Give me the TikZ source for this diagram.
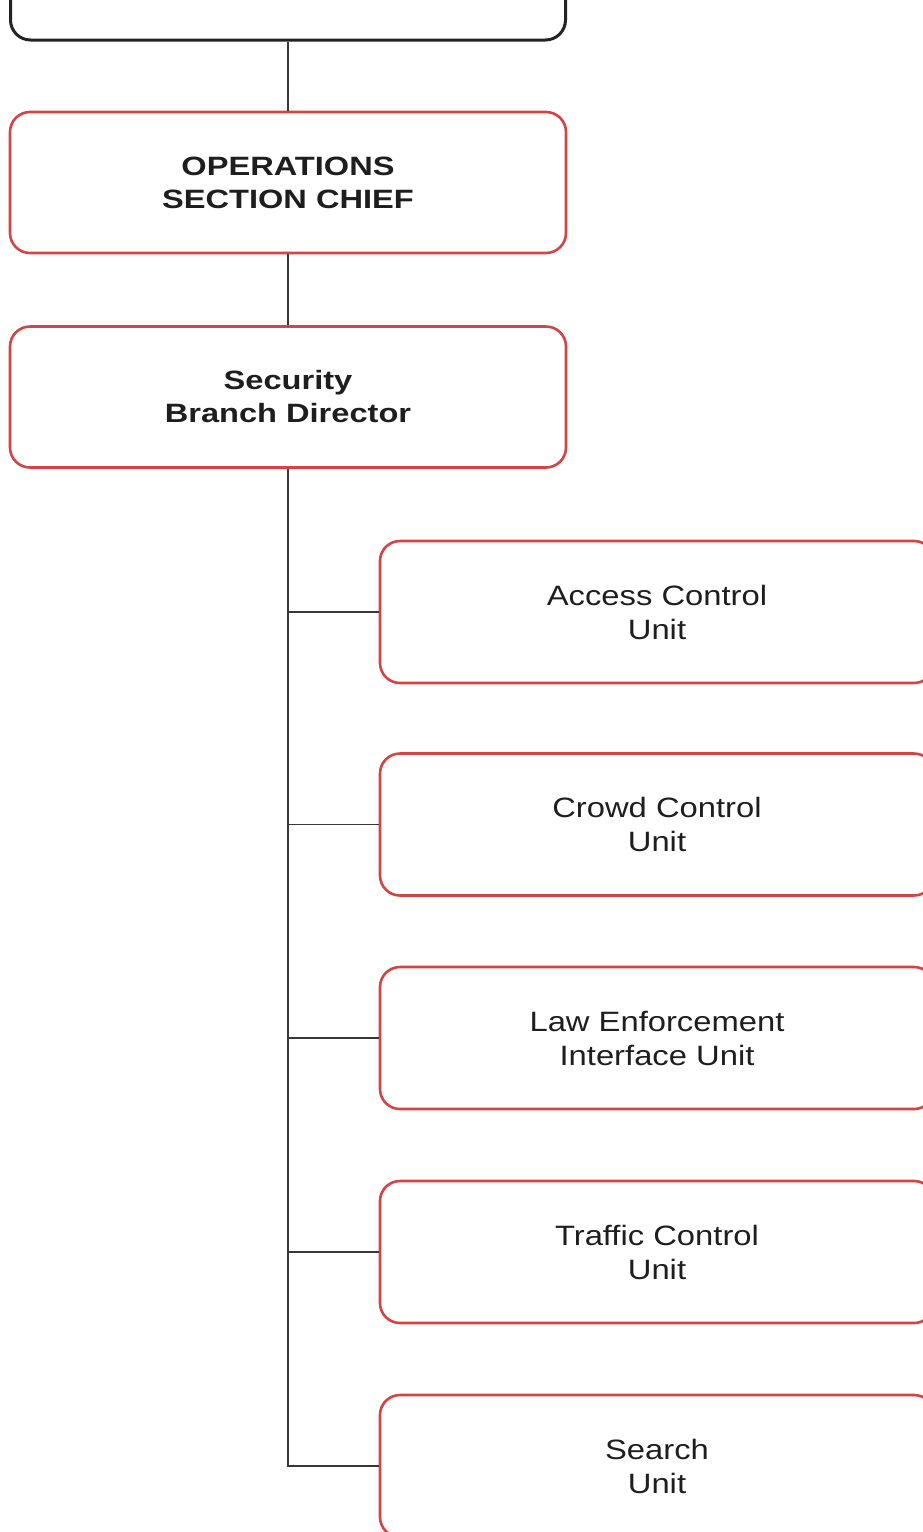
\documentclass[tikz,border=0pt]{standalone}
\usepackage{fontspec}
\setmainfont{Liberation Sans}
\newfontfamily\unitfont{Liberation Sans}[FakeStretch=1.17]
\newfontfamily\headfont{Liberation Sans}[FakeStretch=1.23]
\definecolor{boxred}{RGB}{212,68,68}
\definecolor{boxblack}{RGB}{35,35,35}
\definecolor{linegray}{RGB}{55,55,55}
\definecolor{txt}{RGB}{30,30,30}
\tikzset{
  orgbox/.style={draw=boxred, line width=2.6pt, rounded corners=20pt, rectangle,
    minimum width=556pt, minimum height=141pt, align=center, text=txt, inner sep=0pt,
    font=\unitfont\fontsize{28}{34}\selectfont},
  topbox/.style={draw=boxblack, line width=3pt, rounded corners=20pt, rectangle,
    minimum width=555pt, minimum height=160pt, inner sep=0pt},
  boldbox/.style={orgbox, font=\headfont\fontsize{26.5}{33}\selectfont\bfseries},
  unitbox/.style={orgbox, minimum width=554pt, minimum height=142pt},
  conn/.style={draw=linegray, line width=1.8pt}
}
\begin{document}
\begin{tikzpicture}[x=1pt,y=-1pt]
\useasboundingbox (0,0) rectangle (923,1532);
\clip (0,0) rectangle (923,1532);
\node[topbox] (top) at (288,-40) {};
\node[boldbox] (ops) at (288,182.5) {OPERATIONS\\SECTION CHIEF};
\node[boldbox] (sec) at (288,397) {Security\\Branch Director};
\node[unitbox] (u1) at (657,612) {Access Control\\Unit};
\node[unitbox] (u2) at (657,824.5) {Crowd Control\\Unit};
\node[unitbox] (u3) at (657,1038) {Law Enforcement\\Interface Unit};
\node[unitbox] (u4) at (657,1252) {Traffic Control\\Unit};
\node[unitbox] (u5) at (657,1466) {Search\\Unit};
\draw[conn] (top.south) -- (ops.north);
\draw[conn] (ops.south) -- (sec.north);
\draw[conn] (sec.south) |- (u5.west);
\foreach \u in {u1,u2,u3,u4}{
  \draw[conn] (sec.south |- \u.west) -- (\u.west);
}
\end{tikzpicture}
\end{document}
